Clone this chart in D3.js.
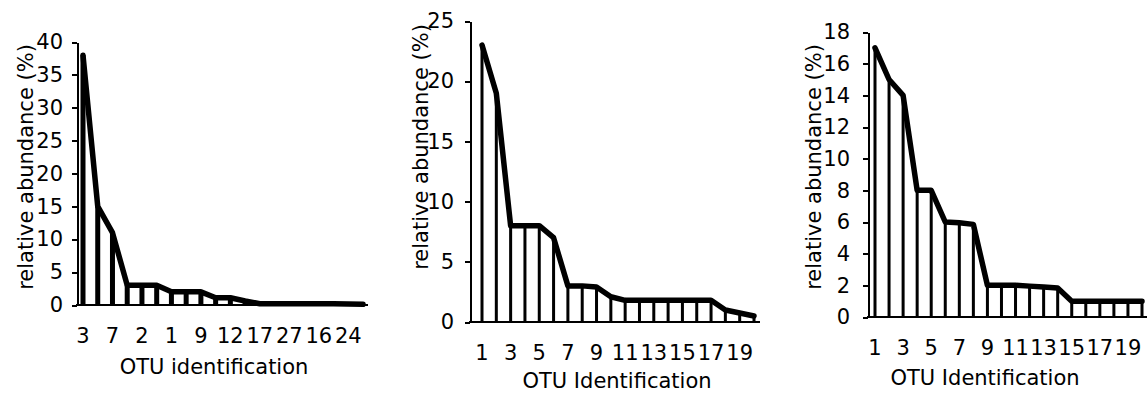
<!DOCTYPE html>
<html lang="en">

<head>
  <meta charset='utf-8'>
  <script src='https://cdn.jsdelivr.net/npm/d3@7/dist/d3.min.js'></script>
  <title></title>
  <style>
    body {
      margin: 0;
      background: #fff;
    }

    text {
      font-family: 'DejaVu Sans', Verdana, sans-serif;
      font-size: 21px;
      fill: #000;
    }

    .axis path,
    .axis line {
      stroke: #000;
      stroke-width: 2px;
      shape-rendering: crispEdges;
    }
  </style>
</head>

<body>
  <div id='chart'></div>
  <script>
    // Values (relative abundance, %).

    var values1 = [38, 15, 11, 3, 3, 3, 2, 2, 2, 1.1, 1.1, 0.6, 0.2, 0.2, 0.2, 0.2, 0.2, 0.2, 0.15, 0.1];
    var values2 = [23, 19, 8, 8, 8, 7, 3, 3, 2.9, 2.1, 1.8, 1.8, 1.8, 1.8, 1.8, 1.8, 1.8, 1.0, 0.75, 0.5];
    var values3 = [17, 15, 14, 8, 8, 6, 5.95, 5.85, 2, 2, 2, 1.95, 1.9, 1.83, 1, 1, 1, 1, 1, 1];

    // Only every other OTU is labelled on the x axes.

    var tickLabels1 = ['3', '7', '2', '1', '9', '12', '17', '27', '16', '24'];
    var tickLabels2 = ['1', '3', '5', '7', '9', '11', '13', '15', '17', '19'];
    var tickLabels3 = ['1', '3', '5', '7', '9', '11', '13', '15', '17', '19'];

    var yMax1 = 40, yStep1 = 5;
    var yMax2 = 25, yStep2 = 5;
    var yMax3 = 18, yStep3 = 2;

    var yTitle = 'relative abundance (%)';
    var xTitle1 = 'OTU identification';
    var xTitle2 = 'OTU Identification';
    var xTitle3 = 'OTU Identification';

    var width = 1147,
      height = 394;

    var svg = d3.select('#chart')
      .append('svg')
      .attr('width', width)
      .attr('height', height);

    // Layout of each panel in pixels.

    var panels = [{
      values: values1, ticks: tickLabels1, yMax: yMax1, yStep: yStep1, xTitle: xTitle1,
      left: 77, right: 368, top: 42, bottom: 305, first: 83, last: 363,
      barWidth: 5, tickPad: 9, yTitleX: 26, yTitleY: 167, xTitleX: 214, xTitleGap: 69
    }, {
      values: values2, ticks: tickLabels2, yMax: yMax2, yStep: yStep2, xTitle: xTitle2,
      left: 470, right: 760, top: 21, bottom: 322, first: 482, last: 754,
      barWidth: 3, tickPad: 11, yTitleX: 421, yTitleY: 147, xTitleX: 617, xTitleGap: 66
    }, {
      values: values3, ticks: tickLabels3, yMax: yMax3, yStep: yStep3, xTitle: xTitle3,
      left: 868, right: 1147, top: 32, bottom: 317, first: 875, last: 1142,
      barWidth: 3, tickPad: 13, yTitleX: 814, yTitleY: 167, xTitleX: 985, xTitleGap: 68
    }];

    panels.forEach(function(p) {

      var g = svg.append('g');

      var xScale = d3.scalePoint()
        .domain(d3.range(p.values.length))
        .range([p.first, p.last]);

      var yScale = d3.scaleLinear()
        .domain([0, p.yMax])
        .range([p.bottom, p.top]);

      // Thin bars under the line.

      g.selectAll('rect')
        .data(p.values)
        .enter()
        .append('rect')
        .attr('x', function(d, i) {
          return xScale(i) - p.barWidth / 2;
        })
        .attr('y', function(d) {
          return yScale(d);
        })
        .attr('width', p.barWidth)
        .attr('height', function(d) {
          return yScale(0) - yScale(d);
        })
        .attr('fill', '#000');

      // Axes.

      g.append('g')
        .attr('class', 'axis')
        .attr('transform', 'translate(' + p.left + ',0)')
        .call(d3.axisLeft(yScale)
          .tickValues(d3.range(0, p.yMax + 0.001, p.yStep))
          .tickSize(5)
          .tickSizeOuter(0)
          .tickPadding(p.tickPad))
        .selectAll('text')
        .style('font-size', '21px')
        .style('font-family', "'DejaVu Sans', Verdana, sans-serif");

      g.append('line')
        .attr('x1', p.left - 1)
        .attr('x2', p.right)
        .attr('y1', yScale(0))
        .attr('y2', yScale(0))
        .attr('stroke', '#000')
        .attr('stroke-width', 2)
        .style('shape-rendering', 'crispEdges');

      g.selectAll('.xlabel')
        .data(p.ticks)
        .enter()
        .append('text')
        .attr('class', 'xlabel')
        .attr('x', function(d, i) {
          return xScale(i * 2);
        })
        .attr('y', yScale(0) + 23)
        .attr('dy', '0.71em')
        .attr('text-anchor', 'middle')
        .text(function(d) {
          return d;
        });

      // Line through the tops.

      var line = d3.line()
        .x(function(d, i) {
          return xScale(i);
        })
        .y(function(d) {
          return yScale(d);
        });

      g.append('path')
        .datum(p.values)
        .attr('d', line)
        .attr('fill', 'none')
        .attr('stroke', '#000')
        .attr('stroke-width', 5.5)
        .attr('stroke-linejoin', 'round')
        .attr('stroke-linecap', 'round');

      // Titles.

      g.append('text')
        .attr('transform', 'translate(' + p.yTitleX + ',' + p.yTitleY + ') rotate(-90)')
        .attr('dy', '0.35em')
        .attr('text-anchor', 'middle')
        .text(yTitle);

      g.append('text')
        .attr('x', p.xTitleX)
        .attr('y', yScale(0) + p.xTitleGap)
        .attr('text-anchor', 'middle')
        .text(p.xTitle);
    });
  </script>
</body>

</html>
